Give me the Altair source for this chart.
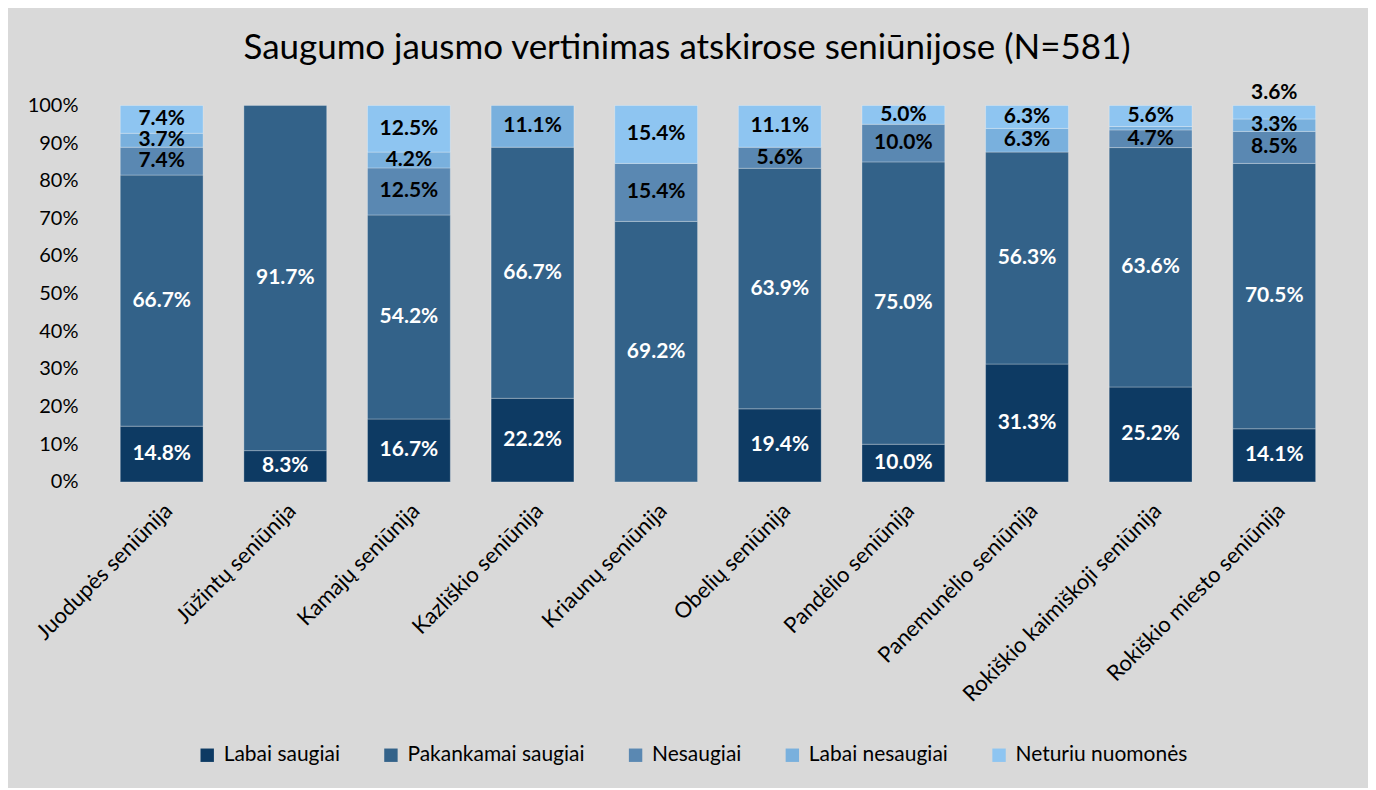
import altair as alt
import pandas as pd

categories = ["Juodupės seniūnija", "Jūžintų seniūnija", "Kamajų seniūnija", "Kazliškio seniūnija",
              "Kriaunų seniūnija", "Obelių seniūnija", "Pandėlio seniūnija", "Panemunėlio seniūnija",
              "Rokiškio kaimiškoji seniūnija", "Rokiškio miesto seniūnija"]
series = ["Labai saugiai", "Pakankamai saugiai", "Nesaugiai", "Labai nesaugiai", "Neturiu nuomonės"]
labai_saugiai = [14.8, 8.3, 16.7, 22.2, 0, 19.4, 10.0, 31.3, 25.2, 14.1]
pakankamai_saugiai = [66.7, 91.7, 54.2, 66.7, 69.2, 63.9, 75.0, 56.3, 63.6, 70.5]
nesaugiai = [7.4, 0, 12.5, 0, 15.4, 5.6, 10.0, 0, 4.7, 8.5]
labai_nesaugiai = [3.7, 0, 4.2, 11.1, 0, 0, 0, 6.3, 0.9, 3.3]
neturiu_nuomones = [7.4, 0, 12.5, 0, 15.4, 11.1, 5.0, 6.3, 5.6, 3.6]
y_ticks = [0, 10, 20, 30, 40, 50, 60, 70, 80, 90, 100]
colors = ["#0d3a63", "#336289", "#5a88b2", "#79b0dd", "#8ec5f1"]
text_colors = ["white", "white", "black", "black", "black"]
# labels that Excel moved above the bar (category, series)
outside_labels = [("Rokiškio miesto seniūnija", "Neturiu nuomonės")]

vals = [labai_saugiai, pakankamai_saugiai, nesaugiai, labai_nesaugiai, neturiu_nuomones]
rows = []
for ci, cat in enumerate(categories):
    cum = 0.0
    for si, s in enumerate(series):
        v = vals[si][ci]
        if v <= 0:
            continue
        start, end = cum, cum + v
        cum = end
        outside = (cat, s) in outside_labels
        rows.append({
            "cat": cat, "series": s, "order": si, "value": v,
            "start": start, "end": min(end, 100.0), "mid": (start + end) / 2,
            "label": f"{v:.1f}%" if v >= 2 else "",
            "tcol": text_colors[si], "outside": outside,
        })
df = pd.DataFrame(rows)

font = "Lato"
x_axis = alt.Axis(labelAngle=-45, labelFontSize=22, labelFont=font, labelColor="#000",
                  ticks=False, domain=False, labelPadding=18, labelLimit=400)
y_axis = alt.Axis(values=y_ticks, labelExpr="datum.value + '%'",
                  labelFontSize=20, labelFont=font, labelColor="#000", labelOverlap=False,
                  ticks=False, domain=False, grid=False, labelPadding=22)
x_scale = alt.Scale(paddingInner=0.33, paddingOuter=0.165)
y_scale = alt.Scale(domain=[0, 100])

base = alt.Chart(df)

bars = base.mark_bar(stroke="#ffffff", strokeOpacity=0.35, strokeWidth=0.8).encode(
    x=alt.X("cat:N", sort=categories, title=None, scale=x_scale, axis=x_axis),
    y=alt.Y("start:Q", scale=y_scale, title=None, axis=y_axis),
    y2="end:Q",
    color=alt.Color("series:N", sort=series,
                    scale=alt.Scale(domain=series, range=colors),
                    legend=alt.Legend(title=None, orient="none", direction="horizontal",
                                      legendX=97, legendY=640, symbolType="square",
                                      symbolSize=180, symbolStrokeWidth=0,
                                      labelFontSize=21, labelFont=font, labelColor="#000",
                                      labelLimit=400, columnPadding=40, labelOffset=6)),
    order=alt.Order("order:Q"),
)

inside = base.transform_filter("!datum.outside").mark_text(
    fontWeight="bold", fontSize=21, font=font, baseline="middle").encode(
    x=alt.X("cat:N", sort=categories, title=None, scale=x_scale, axis=x_axis),
    y=alt.Y("mid:Q", scale=y_scale, title=None, axis=y_axis),
    text="label:N",
    color=alt.Color("tcol:N", scale=None),
)

outside = base.transform_filter("datum.outside").mark_text(
    fontWeight="bold", fontSize=21, font=font, baseline="middle", dy=-12).encode(
    x=alt.X("cat:N", sort=categories, title=None, scale=x_scale, axis=x_axis),
    y=alt.Y("end:Q", scale=y_scale, title=None, axis=y_axis),
    text="label:N",
    color=alt.value("black"),
)

chart = alt.layer(bars, inside, outside).properties(
    width=1238, height=377,
    padding={"left": 92, "top": 97, "right": 32, "bottom": 306},
    autosize=alt.AutoSizeParams(type="none"),
    title=alt.TitleParams("Saugumo jausmo vertinimas atskirose seniūnijose (N=581)",
                          fontSize=35, font=font, fontWeight="normal", color="#000",
                          anchor="middle", offset=16, dx=-31),
).configure(background="#d9d9d9").configure_view(stroke=None).configure_axisY(labelOverlap=False)

chart.save("out.html", embed_options={"renderer": "svg", "actions": False})
